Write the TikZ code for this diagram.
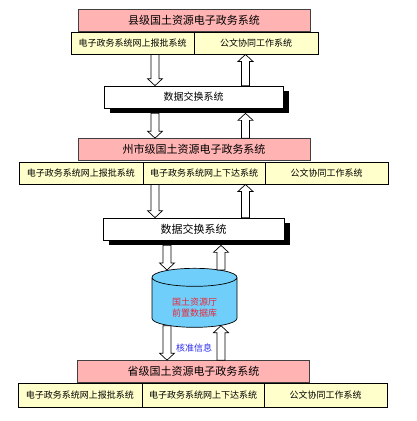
\documentclass[tikz,border=0pt]{standalone}
\usepackage{fontspec}
\newfontfamily\cjk{Noto Sans CJK SC}
\usetikzlibrary{shapes.geometric,shadows,calc,positioning}
\definecolor{titlepink}{HTML}{FFB3B3}
\definecolor{subyellow}{HTML}{FFFFCC}
\definecolor{dbblue}{HTML}{70CFFA}
\definecolor{dbred}{HTML}{E8283C}
\definecolor{noteblue}{HTML}{2A2AF0}

\begin{document}
\begin{tikzpicture}[x=1pt, y=-1pt,
    title/.style={rectangle, draw=black!75, line width=0.7pt, fill=titlepink, minimum width=232pt, minimum height=22pt, inner sep=0pt, font=\cjk\fontsize{11}{13}\selectfont},
    sub/.style={rectangle, draw, line width=0.9pt, fill=subyellow, minimum height=22pt, inner sep=0pt, font=\cjk\fontsize{9}{11}\selectfont},
    xchg/.style={rectangle, draw, line width=0.7pt, fill=white, minimum height=22pt, inner sep=0pt, drop shadow={shadow xshift=6pt, shadow yshift=-5pt, fill=black, opacity=1}},
    db/.style={cylinder, shape border rotate=90, aspect=0.4, draw, line width=0.7pt, fill=dbblue, minimum width=85pt, minimum height=59pt, inner sep=0pt, align=center, font=\cjk\fontsize{9}{11}\selectfont},
    dbtext/.style={align=center, text=dbred, inner sep=0pt, font=\cjk\fontsize{9}{11}\selectfont},
    hollowdn/.style={draw, line width=0.7pt, fill=white, to path={let \p1=(\tikztostart), \p2=(\tikztotarget) in
        (\x1-4pt,\y1) -- (\x1-4pt,\y2+7pt) -- (\x1-7.5pt,\y2+7pt) -- (\x1,\y2) -- (\x1+7.5pt,\y2+7pt) -- (\x1+4pt,\y2+7pt) -- (\x1+4pt,\y1) -- cycle}},
    hollowup/.style={draw, line width=0.7pt, fill=white, to path={let \p1=(\tikztostart), \p2=(\tikztotarget) in
        (\x1-4pt,\y1) -- (\x1-4pt,\y2-7pt) -- (\x1-7.5pt,\y2-7pt) -- (\x1,\y2) -- (\x1+7.5pt,\y2-7pt) -- (\x1+4pt,\y2-7pt) -- (\x1+4pt,\y1) -- cycle}}
]
\useasboundingbox (0,0) rectangle (417,421);

% County level
\node[title] (cnty) at (194,20.5) {县级国土资源电子政务系统};
\node[sub, minimum width=123pt] (cntyup) at (132.5,43) {电子政务系统网上报批系统};
\node[sub, minimum width=124pt] (cntydoc) at (256,43) {公文协同工作系统};

% Exchange 1
\node[xchg, minimum width=179pt, font=\cjk\fontsize{10}{12}\selectfont] (xa) at (193.5,97) {数据交换系统};

% City level
\node[title] (city) at (194,149.5) {州市级国土资源电子政务系统};
\node[sub, minimum width=124pt] (cityup) at (81,173) {电子政务系统网上报批系统};
\node[sub, minimum width=122pt] (citydn) at (204,173) {电子政务系统网上下达系统};
\node[sub, minimum width=123pt] (citydoc) at (326.5,173) {公文协同工作系统};

% Exchange 2
\node[xchg, minimum width=181pt, font=\cjk\fontsize{11}{13}\selectfont] (xb) at (193.5,229) {数据交换系统};

% Front database (phantom text keeps the end ellipse size)
\node[db] (db) at (194.5,302.5) {\phantom{国土资源厅}\\\phantom{前置数据库}};
\node[dbtext] (dbtxt) at (194.5,307.5) {国土资源厅\\前置数据库};
\node[font=\cjk\fontsize{9}{11}\selectfont, text=noteblue] (note) at (194,348) {核准信息};

% Province level
\node[title] (prov) at (193.5,371.5) {省级国土资源电子政务系统};
\node[sub, minimum width=124pt, minimum height=24pt] (provup) at (80,395) {电子政务系统网上报批系统};
\node[sub, minimum width=122pt, minimum height=24pt] (provdn) at (203,395) {电子政务系统网上下达系统};
\node[sub, minimum width=123pt, minimum height=24pt] (provdoc) at (325.5,395) {公文协同工作系统};

% Arrow columns
\coordinate (dn) at (155,0);
\coordinate (up) at (245.5,0);
\coordinate (dn2) at (167,0);
\coordinate (up2) at (221,0);
\coordinate (xas) at ([yshift=-5pt]xa.south);
\coordinate (xbs) at ([yshift=-5pt]xb.south);
\coordinate (dbt) at ([yshift=-2pt]db.north);
\coordinate (dbb) at ([yshift=2pt]db.south);

% Arrows
\draw[hollowdn] (cntyup.south -| dn) to (xa.north -| dn);
\draw[hollowup] (xa.north -| up) to (cntydoc.south -| up);
\draw[hollowdn] (xas -| dn) to (city.north -| dn);
\draw[hollowup] (city.north -| up) to (xas -| up);
\draw[hollowdn] (citydn.south -| dn) to (xb.north -| dn);
\draw[hollowup] (xb.north -| up) to (citydn.south -| up);
\draw[hollowdn] (xbs -| dn2) to (dbt -| dn2);
\draw[hollowup] (dbt -| up2) to (xbs -| up2);
\draw[hollowdn] (dbb -| dn2) to (prov.north -| dn2);
\draw[hollowup] (prov.north -| up2) to (dbb -| up2);
\end{tikzpicture}
\end{document}
